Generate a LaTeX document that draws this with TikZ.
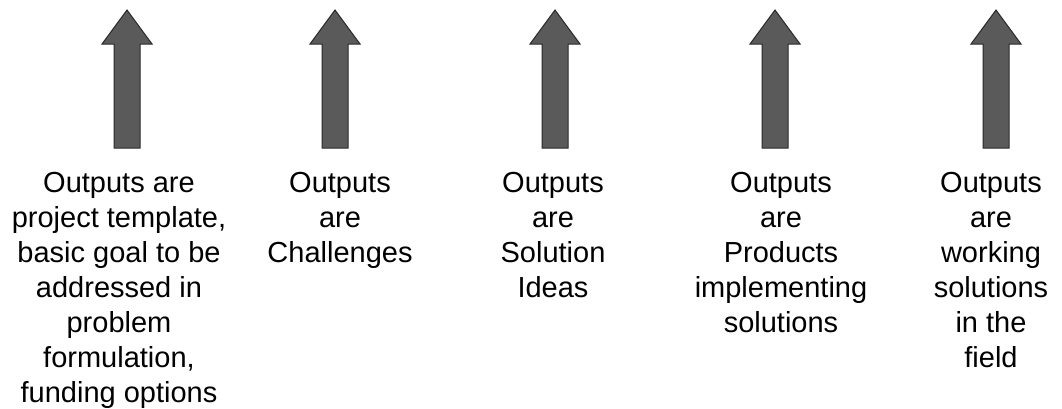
\documentclass[tikz,border=0pt]{standalone}
\usepackage{fontspec}
\setmainfont{Liberation Sans}
\definecolor{arrowgray}{HTML}{5A5A5A}
\definecolor{arrowline}{HTML}{2A2A2A}
\begin{document}
\begin{tikzpicture}[x=1pt,y=-1pt,
  outtext/.style={align=center, inner sep=0pt, anchor=north, text=black,
    font=\fontsize{29}{35}\selectfont},
  uparrow/.pic={\path[fill=arrowgray, draw=arrowline, line width=1pt, line join=miter]
    (-13,148) -- (-13,44) -- (-25,44) -- (0,10) -- (25,44) -- (13,44) -- (13,148) -- cycle;}]
\useasboundingbox[fill=white] (0,0) rectangle (1062,408);
\pic (a1) at (127,0) {uparrow};
\pic (a2) at (335,0) {uparrow};
\pic (a3) at (555,0) {uparrow};
\pic (a4) at (775,0) {uparrow};
\pic (a5) at (996,0) {uparrow};
\node[outtext] (t1) at (119,172) {Outputs are\\project template,\\basic goal to be\\addressed in\\problem\\formulation,\\funding options};
\node[outtext] (t2) at (340,172) {Outputs\\are\\Challenges};
\node[outtext] (t3) at (553,172) {Outputs\\are\\Solution\\Ideas};
\node[outtext] (t4) at (781,172) {Outputs\\are\\Products\\implementing\\solutions};
\node[outtext] (t5) at (991,172) {Outputs\\are\\working\\solutions\\in the\\field};
\end{tikzpicture}
\end{document}
